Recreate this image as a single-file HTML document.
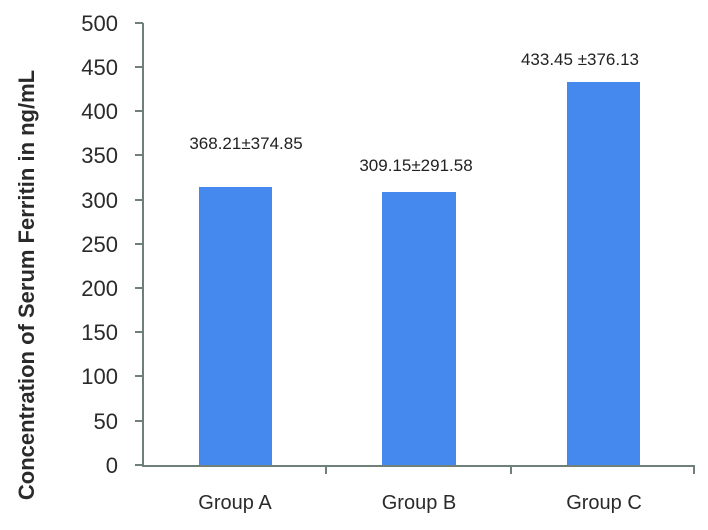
<!DOCTYPE html>
<html><head><style>
body{margin:0;background:#fff;}
svg text{font-family:"Liberation Sans",Arial,sans-serif;}
</style></head><body>
<svg width="708" height="525" viewBox="0 0 708 525" xmlns="http://www.w3.org/2000/svg">
<rect width="708" height="525" fill="#fff"/>
<g fill="#4589ee">
<rect x="199" y="187" width="73" height="278"/>
<rect x="382" y="192" width="74" height="273"/>
<rect x="567" y="82" width="73" height="383"/>
</g>
<g stroke="#6f7f7a" stroke-width="2" fill="none">
<line x1="143" y1="23" x2="143" y2="466"/>
<line x1="142" y1="466" x2="695" y2="466"/>
<line x1="135" y1="23" x2="143" y2="23"/>
<line x1="135" y1="67" x2="143" y2="67"/>
<line x1="135" y1="111" x2="143" y2="111"/>
<line x1="135" y1="155" x2="143" y2="155"/>
<line x1="135" y1="200" x2="143" y2="200"/>
<line x1="135" y1="244" x2="143" y2="244"/>
<line x1="135" y1="288" x2="143" y2="288"/>
<line x1="135" y1="332" x2="143" y2="332"/>
<line x1="135" y1="376" x2="143" y2="376"/>
<line x1="135" y1="421" x2="143" y2="421"/>
<line x1="135" y1="465" x2="143" y2="465"/>
<line x1="326" y1="466" x2="326" y2="474"/>
<line x1="511" y1="466" x2="511" y2="474"/>
<line x1="694" y1="466" x2="694" y2="474"/>
</g>
<g font-size="22" fill="#2a2a2a" text-anchor="end">
<text x="118" y="31">500</text>
<text x="118" y="75">450</text>
<text x="118" y="119">400</text>
<text x="118" y="163">350</text>
<text x="118" y="208">300</text>
<text x="118" y="252">250</text>
<text x="118" y="296">200</text>
<text x="118" y="340">150</text>
<text x="118" y="384">100</text>
<text x="118" y="429">50</text>
<text x="118" y="473">0</text>
</g>
<g font-size="20" fill="#2a2a2a" text-anchor="middle">
<text x="235" y="509">Group A</text>
<text x="419" y="509">Group B</text>
<text x="604" y="509">Group C</text>
</g>
<g font-size="17" fill="#222" text-anchor="middle">
<text x="246" y="149">368.21±374.85</text>
<text x="416" y="171">309.15±291.58</text>
<text x="580" y="65">433.45 ±376.13</text>
</g>
<text transform="translate(34,285) rotate(-90)" font-size="22" font-weight="bold" fill="#2a2a2a" text-anchor="middle">Concentration of Serum Ferritin in ng/mL</text>
</svg>
</body></html>
